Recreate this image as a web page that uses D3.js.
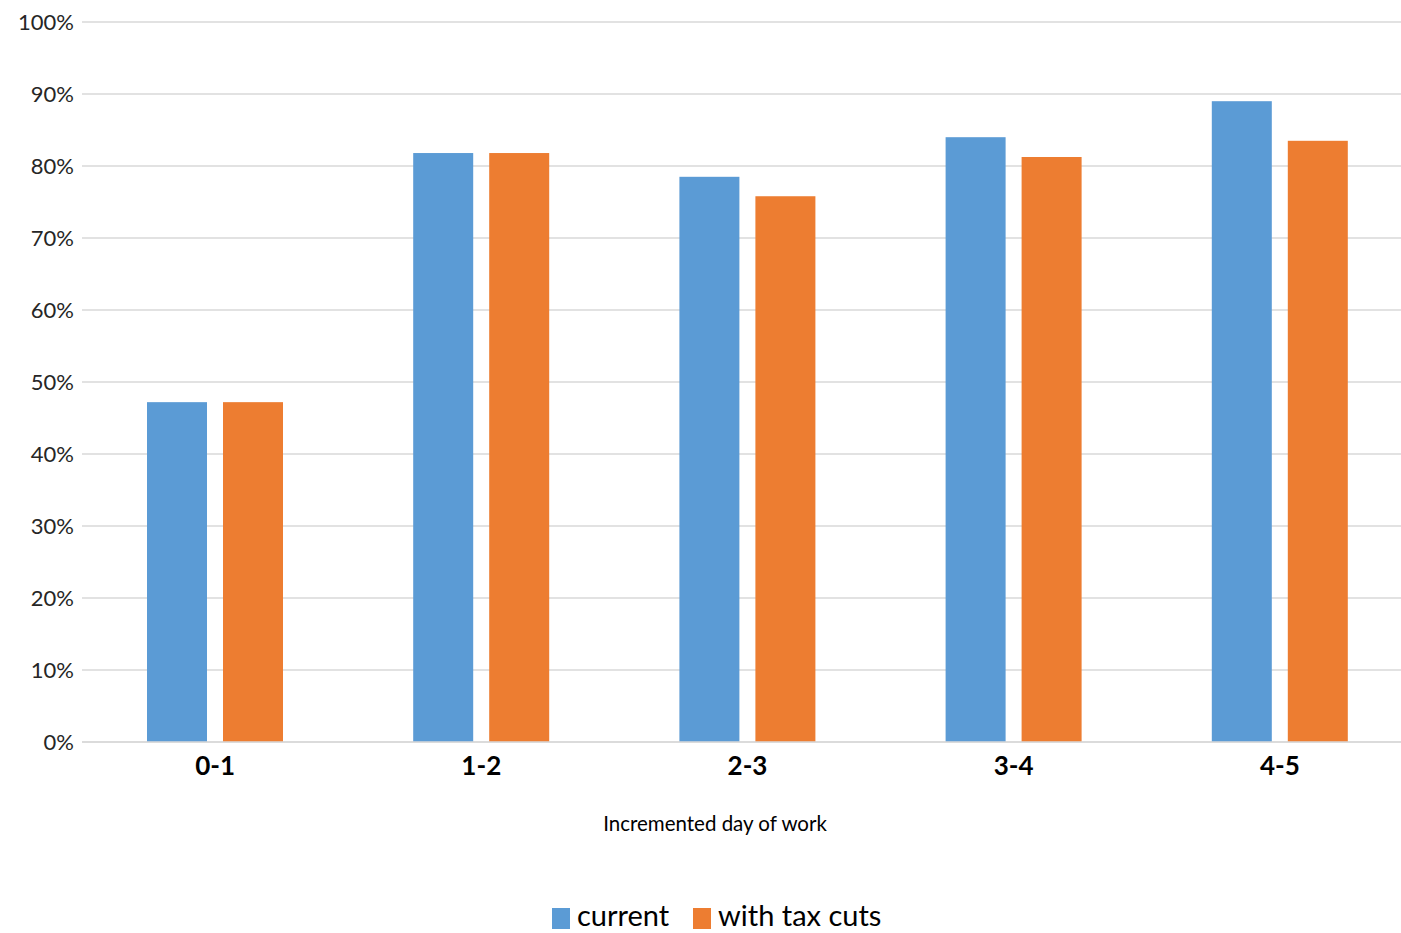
<!DOCTYPE html>
<html><head><meta charset="utf-8">
<script src="https://cdn.jsdelivr.net/npm/d3@7"></script>
<style>body{margin:0;background:#fff;} svg{display:block;font-family:Lato,"Open Sans",sans-serif;}</style>
</head><body>
<svg id="c" width="1401" height="933"></svg>
<script>
const categories = ["0-1","1-2","2-3","3-4","4-5"];
const seriesNames = ["current","with tax cuts"];
const current = [47.2, 81.8, 78.5, 84.0, 89.0];
const withTaxCuts = [47.2, 81.8, 75.8, 81.25, 83.5];
const yTicks = [0,10,20,30,40,50,60,70,80,90,100];
const colors = ["#5b9bd5","#ed7d31"];

(function(){
const svg = d3.select("#c");
const pLeft = 82, pRight = 1413, pTop = 22, pBottom = 742;
const x0 = d3.scaleBand().domain(categories).range([pLeft, pRight]).padding(0);
const x1 = d3.scaleBand().domain(seriesNames).range([65, 201]).paddingInner(16/76).paddingOuter(0);
const y = d3.scaleLinear().domain([0,100]).range([pBottom, pTop]);

svg.append("g").selectAll("line").data(yTicks).join("line")
  .attr("x1", pLeft).attr("x2", 1401)
  .attr("y1", d=>y(d)).attr("y2", d=>y(d))
  .attr("stroke", "#d9d9d9").attr("stroke-width", 1.5);

svg.append("g").selectAll("text").data(yTicks).join("text")
  .attr("x", 74).attr("y", d=>y(d)).attr("dy","0.35em")
  .attr("text-anchor","end").attr("font-size", 22).attr("fill","#262626")
  .text(d=>d+"%");

const data = categories.map((c,i)=>({cat:c, vals:[current[i], withTaxCuts[i]]}));
const g = svg.append("g").selectAll("g").data(data).join("g")
  .attr("transform", d=>`translate(${x0(d.cat)},0)`);
g.selectAll("rect").data(d=>d.vals.map((v,j)=>({s:seriesNames[j], v, j}))).join("rect")
  .attr("x", d=>x1(d.s)).attr("width", x1.bandwidth())
  .attr("y", d=>y(d.v)).attr("height", d=>y(0)-y(d.v))
  .attr("fill", d=>colors[d.j]);

svg.append("line").attr("x1",pLeft).attr("x2",1401).attr("y1",y(0)).attr("y2",y(0))
  .attr("stroke","#d9d9d9").attr("stroke-width",1.5);

svg.append("g").selectAll("text").data(categories).join("text")
  .attr("x", d=>x0(d)+x0.bandwidth()/2).attr("y", 775)
  .attr("text-anchor","middle").attr("font-size", 26).attr("font-weight","bold").attr("fill","#000")
  .text(d=>d);

svg.append("text").attr("x", 715).attr("y", 831).attr("text-anchor","middle")
  .attr("font-size", 20.5).attr("fill","#000").text("Incremented day of work");

const legendX = [552, 693];
const lg = svg.append("g").selectAll("g").data(seriesNames).join("g")
  .attr("transform",(d,i)=>`translate(${legendX[i]},0)`);
lg.append("rect").attr("x",0).attr("y",908).attr("width",18).attr("height",21).attr("fill",(d,i)=>colors[i]);
lg.append("text").attr("x",25).attr("y",926).attr("font-size",29).attr("fill","#000").text(d=>d);
})();
</script>
</body></html>
